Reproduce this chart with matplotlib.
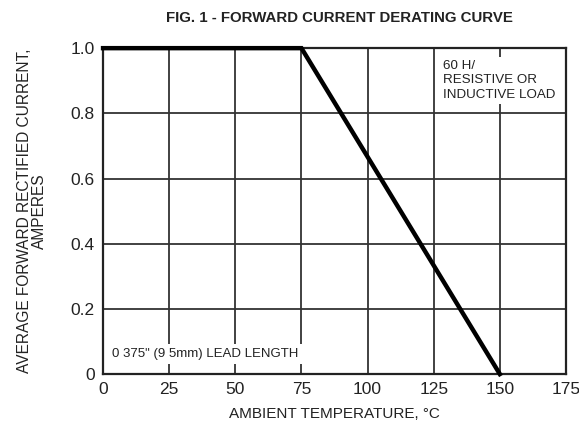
import matplotlib
matplotlib.use("Agg")
import matplotlib.pyplot as plt

plt.rcParams['font.family'] = ['Liberation Sans', 'DejaVu Sans']

# derating curve
temp = [0, 75, 150]
current = [1.0, 1.0, 0.0]

xticks = [0, 25, 50, 75, 100, 125, 150, 175]
yticks = [0, 0.2, 0.4, 0.6, 0.8, 1.0]
ytick_labels = ['0', '0.2', '0.4', '0.6', '0.8', '1.0']

fig = plt.figure(figsize=(5.79, 4.30), dpi=100)
ax = fig.add_axes([0.178, 0.130, 0.7995, 0.758])

ax.set_xlim(0, 175)
ax.set_ylim(0, 1.0)
ax.set_xticks(xticks)
ax.set_yticks(yticks)
ax.set_yticklabels(ytick_labels)
ax.tick_params(axis='both', labelsize=12.5, length=0, pad=6, colors='#222222')
ax.grid(True, color='#333333', linewidth=1.3, zorder=1)
ax.set_axisbelow(True)
for s in ax.spines.values():
    s.set_linewidth(1.6)
    s.set_color('#222222')

ax.plot(temp, current, color='black', linewidth=3.2, zorder=3, clip_on=False,
        solid_joinstyle='miter')

ax.text(128.5, 0.965, "60 H/\nRESISTIVE OR\nINDUCTIVE LOAD", fontsize=9.6,
        va='top', ha='left', color='#222222', linespacing=1.3, zorder=4,
        bbox=dict(facecolor='white', edgecolor='none', pad=2))
ax.text(3.5, 0.062, "0 375\" (9 5mm) LEAD LENGTH", fontsize=9.5,
        va='center', ha='left', color='#222222', zorder=4,
        bbox=dict(facecolor='white', edgecolor='none', pad=3))

fig.text(0.587, 0.958, "FIG. 1 - FORWARD CURRENT DERATING CURVE", fontsize=10.8,
         fontweight='bold', ha='center', va='center', color='#222222')
ax.set_xlabel("AMBIENT TEMPERATURE, °C", fontsize=11, labelpad=7, color='#222222')
ax.set_ylabel("AVERAGE FORWARD RECTIFIED CURRENT,\nAMPERES", fontsize=11.2,
              labelpad=17, color='#222222', linespacing=1.0)

fig.savefig("out.png", dpi=100)
